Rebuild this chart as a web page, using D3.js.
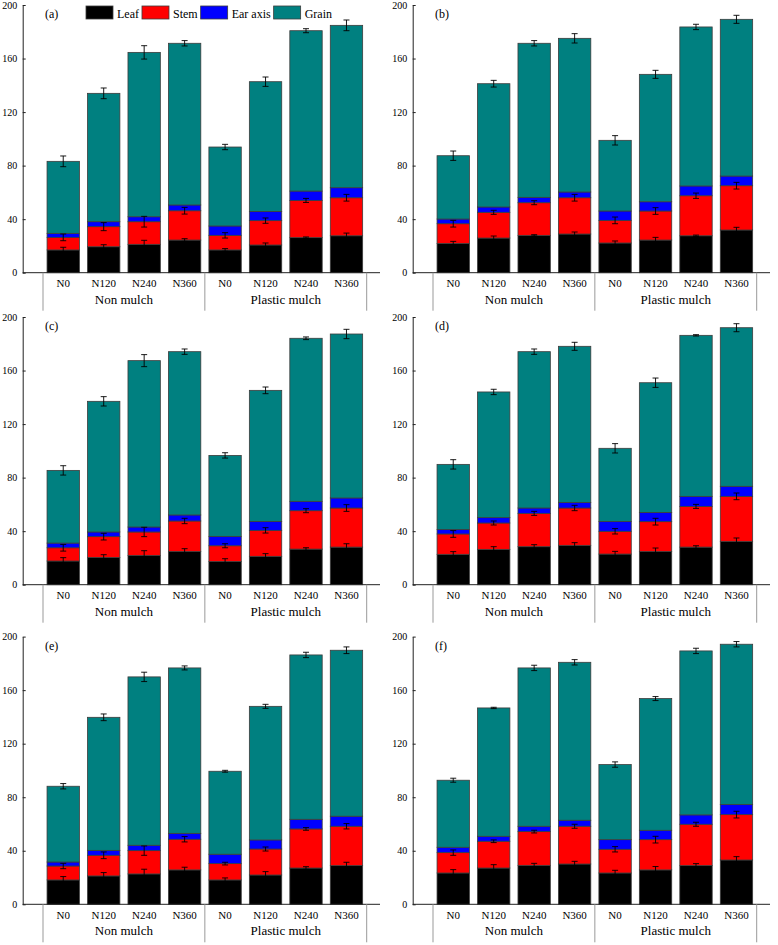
<!DOCTYPE html>
<html>
<head>
<meta charset="utf-8">
<script src="https://cdn.jsdelivr.net/npm/d3@7"></script>
<style>
  html, body { margin: 0; padding: 0; background: #fff; }
  svg { display: block; }
  text { font-family: "Liberation Serif", "Times New Roman", serif; fill: #000; }
</style>
</head>
<body>
<svg id="chart" width="778" height="945"></svg>
<script>
// ---------------- data ----------------
const panelLabels = ["(a)", "(b)", "(c)", "(d)", "(e)", "(f)"];
const nLevels = ["N0", "N120", "N240", "N360", "N0", "N120", "N240", "N360"];
const groups = ["Non mulch", "Plastic mulch"];
const seriesNames = ["Leaf", "Stem", "Ear axis", "Grain"];
const yTicks = [0, 40, 80, 120, 160, 200];

// segment values per panel (rows a..f), 8 bars each
const leaf = [
  [17.0, 19.4, 21.2, 24.4, 17.0, 20.7, 26.2, 27.6],
  [21.9, 25.9, 27.9, 28.9, 22.2, 24.4, 27.6, 31.9],
  [17.7, 20.4, 21.9, 24.9, 17.4, 21.2, 26.6, 28.1],
  [22.7, 26.4, 28.4, 29.4, 22.9, 24.9, 28.1, 32.4],
  [18.2, 21.2, 22.7, 25.7, 18.2, 21.9, 27.1, 28.9],
  [23.4, 27.1, 29.1, 30.1, 23.4, 25.7, 28.9, 33.1]
];
const stem = [
  [9.4, 15.0, 16.9, 21.9, 10.9, 18.2, 27.8, 28.4],
  [14.7, 19.2, 24.4, 27.1, 16.9, 21.7, 29.9, 33.1],
  [9.9, 15.5, 17.5, 22.7, 11.7, 19.4, 28.7, 29.2],
  [15.2, 19.7, 24.9, 27.9, 17.0, 22.2, 30.4, 33.6],
  [10.4, 15.4, 17.4, 22.9, 12.2, 19.4, 29.2, 29.4],
  [15.2, 20.0, 25.2, 28.2, 17.7, 22.6, 30.9, 33.9]
];
const earAxis = [
  [3.0, 3.7, 3.7, 4.3, 7.0, 6.9, 7.0, 7.5],
  [3.5, 4.0, 4.0, 4.3, 7.0, 6.9, 7.3, 7.2],
  [3.5, 3.5, 3.7, 4.5, 7.0, 6.7, 7.0, 7.5],
  [3.4, 4.0, 4.0, 4.2, 7.4, 6.9, 7.5, 7.5],
  [3.0, 3.7, 4.0, 4.4, 7.0, 6.8, 7.2, 7.5],
  [4.0, 3.7, 4.0, 4.5, 7.2, 7.0, 7.0, 7.5]
];
const grain = [
  [53.8, 95.9, 122.8, 120.8, 59.0, 96.9, 119.8, 121.3],
  [47.3, 92.1, 115.1, 114.8, 52.8, 95.2, 118.8, 117.1],
  [54.3, 97.6, 124.3, 122.0, 60.5, 97.9, 121.8, 122.5],
  [48.6, 93.9, 116.8, 116.6, 54.6, 96.9, 120.3, 118.5],
  [56.6, 99.4, 125.8, 123.6, 62.0, 99.8, 122.8, 124.0],
  [50.1, 95.9, 118.3, 118.0, 56.1, 98.4, 122.5, 119.8]
];
// error bars (shown at the top of leaf, stem and the whole bar)
const leafErr = [
  [2, 1.5, 3, 1, 1, 1.5, 0.5, 2],
  [1.5, 1.5, 0.5, 1.5, 1.5, 2, 0.5, 2],
  [2.5, 2, 3.5, 2, 2, 2, 1, 2.5],
  [2, 2, 1.5, 2, 2, 2.5, 1, 2.5],
  [2.5, 2.5, 3.5, 2, 1.5, 2.5, 1, 2.5],
  [2.5, 2.5, 1.5, 2, 2, 2.5, 1.5, 2.5]
];
const stemErr = [
  [2.5, 3, 4, 2.5, 2, 2, 1.5, 2.5],
  [2.5, 1.5, 1.5, 2.5, 2.5, 2.5, 2, 2.5],
  [2.5, 2.5, 3.5, 2, 1.5, 2, 1.5, 2.5],
  [2.5, 1.5, 1.5, 2, 2, 2.5, 1.5, 2.5],
  [2, 2.5, 3.5, 2, 1, 1.5, 1, 2],
  [2, 1, 1, 1.5, 2, 2.5, 1.5, 2.5]
];
const grainErr = [
  [4, 4, 5, 2, 2, 3.5, 1.5, 4],
  [3.5, 2.5, 2, 3.5, 3.5, 3, 2, 3],
  [3.5, 3.5, 4.5, 2, 2, 2.5, 1, 3.5],
  [3.5, 2, 2, 3, 3.5, 3.5, 0.5, 3],
  [2, 2.5, 3.5, 1.5, 0.7, 1.5, 2, 2.5],
  [1.5, 0.5, 2, 2, 2, 1.5, 2, 2]
];

// ---------------- style / layout ----------------
const colors = ["#000000", "#ff0000", "#0000ff", "#008080"];
const panelX = [0, 390];
const panelY = [0, 312, 631.6];
const serif = '"Liberation Serif", "Times New Roman", serif';

const svg = d3.select("#chart");

const y = d3.scaleLinear().domain([0, 200]).range([272.7, 5]);
const x = d3.scaleBand().domain(d3.range(8)).range([43, 366.7])
  .paddingInner(0.2).paddingOuter(0.1);
const step = x.step();
const r0 = x.range()[0], r1 = x.range()[1];

const stackGen = d3.stack().keys([0, 1, 2, 3]);

panelLabels.forEach((lab, p) => {
  const g = svg.append("g")
    .attr("transform", `translate(${panelX[p % 2]},${panelY[Math.floor(p / 2)]})`);

  const rows = d3.range(8).map(i => ({0: leaf[p][i], 1: stem[p][i], 2: earAxis[p][i], 3: grain[p][i]}));
  const stacked = stackGen(rows);

  // bars
  stacked.forEach((layer, k) => {
    g.append("g").selectAll("rect").data(layer).join("rect")
      .attr("x", (d, i) => x(i))
      .attr("width", x.bandwidth())
      .attr("y", d => y(d[1]))
      .attr("height", d => y(d[0]) - y(d[1]))
      .attr("fill", colors[k])
      .attr("stroke", "#3c3c3c")
      .attr("stroke-width", 0.8);
  });

  // error bars
  const errs = [];
  d3.range(8).forEach(i => {
    errs.push({i, v: stacked[0][i][1], e: leafErr[p][i]});
    errs.push({i, v: stacked[1][i][1], e: stemErr[p][i]});
    errs.push({i, v: stacked[3][i][1], e: grainErr[p][i]});
  });
  const eg = g.append("g").attr("stroke", "#000").attr("stroke-width", 0.9).attr("fill", "none");
  errs.forEach(d => {
    const cx = x(d.i) + x.bandwidth() / 2;
    eg.append("line").attr("x1", cx).attr("x2", cx).attr("y1", y(d.v - d.e)).attr("y2", y(d.v + d.e));
    eg.append("line").attr("x1", cx - 3).attr("x2", cx + 3).attr("y1", y(d.v - d.e)).attr("y2", y(d.v - d.e));
    eg.append("line").attr("x1", cx - 3).attr("x2", cx + 3).attr("y1", y(d.v + d.e)).attr("y2", y(d.v + d.e));
  });

  // y axis
  const ya = g.append("g").attr("transform", "translate(22.7,0)")
    .call(d3.axisLeft(y).tickValues(yTicks).tickSizeInner(-3).tickSizeOuter(0).tickPadding(5.5));
  ya.attr("font-family", serif);
  ya.selectAll("path, line").attr("stroke", "#222");
  ya.selectAll("text").attr("font-family", serif).attr("font-size", 10).attr("fill", "#000");

  // x axis line
  g.append("line").attr("x1", 22.7).attr("x2", 380).attr("y1", y(0)).attr("y2", y(0))
    .attr("stroke", "#222").attr("stroke-width", 1);

  // category labels
  const xa = g.append("g").attr("transform", `translate(0,${y(0)})`)
    .call(d3.axisBottom(x).tickSize(0).tickPadding(6.5).tickFormat(i => nLevels[i]));
  xa.attr("font-family", serif);
  xa.select(".domain").remove();
  xa.selectAll("text").attr("font-family", serif).attr("font-size", 11).attr("fill", "#000");

  // group separators
  [r0, r0 + 4 * step, r1].forEach(bx => {
    g.append("line").attr("x1", bx).attr("x2", bx).attr("y1", y(0)).attr("y2", y(0) + 38)
      .attr("stroke", "#999").attr("stroke-width", 1);
  });
  groups.forEach((gn, gi) => {
    g.append("text").attr("x", r0 + (gi * 4 + 2) * step).attr("y", y(0) + 30.8)
      .attr("text-anchor", "middle").attr("font-size", 13).attr("font-family", serif).text(gn);
  });

  // panel label
  g.append("text").attr("x", 45).attr("y", 18).attr("font-size", 12).attr("font-family", serif).text(lab);

  // legend (first panel only)
  if (p === 0) {
    let lx = 86;
    seriesNames.forEach((s, k) => {
      g.append("rect").attr("x", lx).attr("y", 6).attr("width", 27).attr("height", 13)
        .attr("fill", colors[k]).attr("stroke", "#3c3c3c").attr("stroke-width", 0.8);
      const t = g.append("text").attr("x", lx + 31).attr("y", 17.5)
        .attr("font-size", 12).attr("font-family", serif).text(s);
      lx += 31 + t.node().getComputedTextLength() + 3;
    });
  }
});
</script>
</body>
</html>
